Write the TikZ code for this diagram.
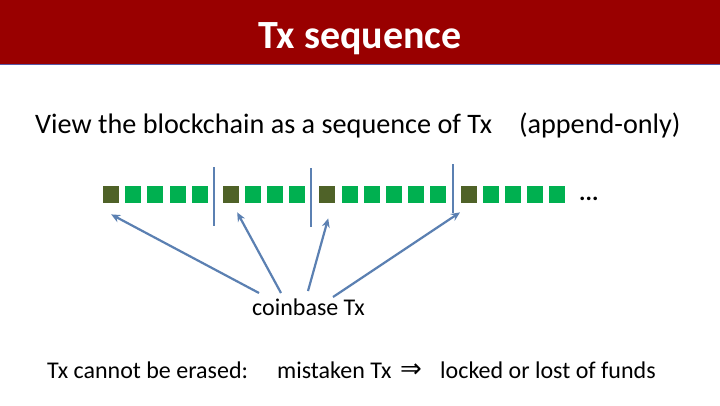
\documentclass[tikz,border=0pt]{standalone}
\usepackage{fontspec}
\setmainfont{Carlito}
\newfontfamily\symfont{DejaVu Sans}
\usetikzlibrary{arrows.meta}
\definecolor{titlered}{HTML}{990000}
\definecolor{darkblk}{HTML}{4F6228}
\definecolor{greenblk}{HTML}{00B050}
\definecolor{linkblue}{HTML}{5B80B2}
\tikzset{
  blk/.style={minimum width=16pt,minimum height=17pt,inner sep=0pt,anchor=north west},
  cbblk/.style={blk,fill=darkblk},
  txblk/.style={blk,fill=greenblk},
  sep/.style={draw=linkblue,line width=2.2pt},
  ptr/.style={draw=linkblue,line width=2.2pt,-{Stealth[length=9pt,width=8pt]}},
  lbl/.style={inner sep=0pt,anchor=base west}
}
\begin{document}
\begin{tikzpicture}[x=1pt,y=-1pt]
\useasboundingbox (0,0) rectangle (720,405);
\fill[white] (0,0) rectangle (720,405);
% title band
\fill[titlered] (0,0) rectangle (720,64);
\draw[draw=gray!70!blue,line width=1pt] (0,64.5) -- (720,64.5);
\node[inner sep=0pt,anchor=base,text=white,font=\fontsize{40}{46}\selectfont\bfseries] (title) at (360,48) {Tx sequence};
% heading
\node[lbl,font=\fontsize{28.2}{33}\selectfont] (head) at (35,133) {View the blockchain as a sequence of Tx\hspace{27pt}(append-only)};
% blocks
\node[cbblk] (s1) at (103,186) {};
\node[txblk] (s2) at (125,186) {};
\node[txblk] (s3) at (147,186) {};
\node[txblk] (s4) at (170,186) {};
\node[txblk] (s5) at (192,186) {};
\node[cbblk] (s6) at (223,186) {};
\node[txblk] (s7) at (245,186) {};
\node[txblk] (s8) at (267,186) {};
\node[txblk] (s9) at (289,186) {};
\node[cbblk] (s10) at (319,186) {};
\node[txblk] (s11) at (342,186) {};
\node[txblk] (s12) at (364,186) {};
\node[txblk] (s13) at (386,186) {};
\node[txblk] (s14) at (408,186) {};
\node[txblk] (s15) at (430,186) {};
\node[cbblk] (s16) at (461,186) {};
\node[txblk] (s17) at (483,186) {};
\node[txblk] (s18) at (505,186) {};
\node[txblk] (s19) at (527,186) {};
\node[txblk] (s20) at (549,186) {};
\node[lbl,font=\fontsize{24}{28}\selectfont\bfseries] (dots) at (579,200) {...};
% block separators
\coordinate (l1a) at (214,167); \coordinate (l1b) at (214,226);
\coordinate (l2a) at (311,168); \coordinate (l2b) at (311,227);
\coordinate (l3a) at (453,164); \coordinate (l3b) at (453,213);
\draw[sep] (l1a) -- (l1b);
\draw[sep] (l2a) -- (l2b);
\draw[sep] (l3a) -- (l3b);
% coinbase label and pointers
\node[lbl,font=\fontsize{24}{29}\selectfont] (cb) at (252,315) {coinbase Tx};
\coordinate (o1) at (259,293);
\coordinate (o2) at (281,293);
\coordinate (o3) at (308,291);
\coordinate (o4) at (333,297);
\draw[ptr] (o1) -- ([yshift=-11pt]s1.south);
\draw[ptr] (o2) -- ([xshift=6pt,yshift=-9pt]s6.south);
\draw[ptr] (o3) -- ([xshift=1pt,yshift=-15pt]s10.south);
\draw[ptr] (o4) -- ([xshift=-1pt,yshift=-9pt]s16.south west);
% bottom line
\node[lbl,font=\fontsize{24}{29}\selectfont] (erase) at (47,378) {Tx cannot be erased:};
\node[lbl,font=\fontsize{24}{29}\selectfont] (mist) at (277,378) {mistaken Tx};
\node[lbl,font=\fontsize{26}{30}\selectfont\symfont] (impl) at (400,377) {⇒};
\node[lbl,font=\fontsize{24}{29}\selectfont] (funds) at (440,378) {locked or lost of funds};
\end{tikzpicture}
\end{document}
